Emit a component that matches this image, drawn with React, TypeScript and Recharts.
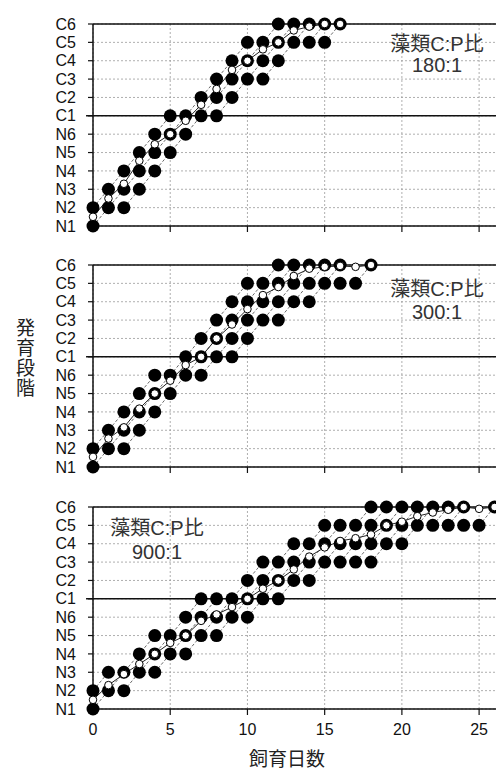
import { ComposedChart, Line, XAxis, YAxis, CartesianGrid, ReferenceLine } from 'recharts';

// 発育段階 (1 = N1 ... 12 = C6)
const stageLabels = ['N1', 'N2', 'N3', 'N4', 'N5', 'N6', 'C1', 'C2', 'C3', 'C4', 'C5', 'C6'];
const stageTicks = [1, 2, 3, 4, 5, 6, 7, 8, 9, 10, 11, 12];
const dayTicks = [0, 5, 10, 15, 20, 25];

// 各日に観察された個体の段階 (index = 飼育日数)
const obs180 = [
  [2, 1], [3, 2], [4, 3, 2], [5, 4, 3], [6, 5, 4], [7, 6, 5], [7, 6], [8, 7], [9, 8, 7],
  [10, 9, 8], [11, 10, 9], [11, 10, 9], [12, 11, 10], [12, 11], [12, 11], [12, 11], [12],
];
const mean180 = [1.5, 2.5, 3.3, 4.55, 5.45, 6, 6.73, 7.6, 8.46, 9.5, 10, 10.62, 11, 11.65, 11.86, 12, 12];

const obs300 = [
  [2, 1], [3, 2], [4, 3, 2], [5, 4, 3], [6, 5, 4], [6, 5], [7, 6], [8, 7, 6], [9, 8, 7],
  [10, 9, 8, 7], [11, 10, 9, 8], [11, 10, 9], [12, 11, 10, 9], [12, 11, 10], [12, 11, 10],
  [12, 11], [12, 11], [11], [12],
];
const mean300 = [1.55, 2.55, 3.16, 4.18, 5, 5.7, 6.55, 7, 8, 8.76, 9.6, 10.36, 10.8, 11.4, 11.8, 11.9, 11.95, 11.9, 12];

const obs900 = [
  [2, 1], [3, 2], [3, 2], [4, 3], [5, 4, 3], [5, 4], [6, 5, 4], [7, 6, 5], [7, 6, 5], [7, 6],
  [8, 7, 6], [9, 8, 7], [9, 8, 7], [10, 9, 8], [10, 9, 8], [11, 10, 9], [11, 10, 9], [11, 10, 9],
  [12, 11, 10, 9], [12, 11, 10], [12, 11, 10], [12, 11], [12, 11], [12, 11], [12, 11], [11], [12],
];
const mean900 = [
  1.5, 2.3, 2.9, 3.45, 4, 4.6, 5, 5.8, 6.15, 6.55, 7, 7.55, 8, 8.6, 9.3, 9.8, 10.15, 10.3, 10.5,
  11, 11.2, 11.5, 11.7, 11.85, 12, 11.9, 12,
];

const latin = "'Liberation Sans', Arial, sans-serif";
const jp = "'Liberation Sans', 'Noto Sans CJK JP', sans-serif";

const toPoints = (obs: number[][]) => obs.flatMap((list, d) => list.map((s) => ({ d, s })));

// 個体の推移: (d, s) -> (d+1, s+1) と斜めにつなぐ
const diagonalChains = (obs: number[][]) => {
  const has = (d: number, s: number) => d >= 0 && d < obs.length && obs[d].includes(s);
  const chains: { d: number; s: number }[][] = [];
  obs.forEach((list, d) => {
    list.forEach((s) => {
      if (has(d - 1, s - 1)) return;
      const chain = [{ d, s }];
      let k = 1;
      while (has(d + k, s + k)) {
        chain.push({ d: d + k, s: s + k });
        k++;
      }
      if (chain.length > 1) chains.push(chain);
    });
  });
  return chains;
};

interface PanelProps {
  obs: number[][];
  mean: number[];
  top: number;
  showLabels: boolean;
}

const Panel = ({ obs, mean, top, showLabels }: PanelProps) => {
  const dots = toPoints(obs);
  const chains = diagonalChains(obs);
  const meanPts = mean.map((s, d) => ({ d, s }));
  return (
    <div style={{ position: 'absolute', left: 0, top: top - 12 }}>
      <ComposedChart width={512} height={244} margin={{ top: 12, right: 2, left: 0, bottom: 0 }}>
        <CartesianGrid stroke="#9a9a9a" strokeDasharray="2 2" strokeWidth={0.8} />
        <XAxis
          type="number"
          dataKey="d"
          domain={[0, 27]}
          ticks={dayTicks}
          interval={0}
          height={30}
          tickSize={6}
          tickMargin={9}
          axisLine={{ stroke: '#111', strokeWidth: 1.5 }}
          tickLine={{ stroke: '#111', strokeWidth: 1.2 }}
          tick={{ fontSize: 16, fill: '#111', fontFamily: latin }}
          tickFormatter={(v: number) => (showLabels ? String(v) : '')}
        />
        <YAxis
          type="number"
          dataKey="s"
          domain={[1, 12]}
          ticks={stageTicks}
          interval={0}
          width={93}
          tickSize={5}
          tickMargin={12}
          axisLine={{ stroke: '#111', strokeWidth: 1.5 }}
          tickLine={{ stroke: '#111', strokeWidth: 1.2 }}
          tick={{ fontSize: 16, fill: '#111', fontFamily: latin }}
          tickFormatter={(v: number) => stageLabels[v - 1]}
        />
        <ReferenceLine y={12} stroke="#111" strokeWidth={1.5} />
        <ReferenceLine
          segment={[{ x: -0.45, y: 7 }, { x: 27, y: 7 }]}
          ifOverflow="visible"
          stroke="#111"
          strokeWidth={1.5}
        />
        {chains.map((c, i) => (
          <Line
            key={`c-${i}`}
            data={c}
            dataKey="s"
            stroke="#444"
            strokeWidth={0.8}
            strokeDasharray="3 2"
            dot={false}
            isAnimationActive={false}
          />
        ))}
        <Line
          data={dots}
          dataKey="s"
          stroke="none"
          dot={{ r: 6.5, fill: '#000', stroke: 'none' }}
          isAnimationActive={false}
        />
        <Line
          data={meanPts}
          dataKey="s"
          stroke="#222"
          strokeWidth={1}
          dot={{ r: 3.8, fill: '#fff', stroke: '#000', strokeWidth: 1 }}
          isAnimationActive={false}
        />
      </ComposedChart>
    </div>
  );
};

const Note = ({ cx, y1, y2, ratio }: { cx: number; y1: number; y2: number; ratio: string }) => (
  <>
    <div style={{ position: 'absolute', left: cx - 70, top: y1 - 12, width: 140, lineHeight: '24px', textAlign: 'center', fontSize: 20, color: '#333', fontFamily: jp }}>
      藻類C:P比
    </div>
    <div style={{ position: 'absolute', left: cx - 70, top: y2 - 12, width: 140, lineHeight: '24px', textAlign: 'center', fontSize: 20, color: '#333', fontFamily: jp }}>
      {ratio}
    </div>
  </>
);

export default function App() {
  return (
    <div style={{ position: 'fixed', left: 0, top: 0, width: 496, height: 769, overflow: 'hidden', background: '#fff' }}>
      <Panel obs={obs180} mean={mean180} top={24} showLabels={false} />
      <Panel obs={obs300} mean={mean300} top={265} showLabels={false} />
      <Panel obs={obs900} mean={mean900} top={507} showLabels={true} />
      <Note cx={437} y1={44} y2={65} ratio="180:1" />
      <Note cx={437} y1={289} y2={312} ratio="300:1" />
      <Note cx={157} y1={528} y2={552} ratio="900:1" />
      <div style={{ position: 'absolute', left: 237, top: 748, width: 100, lineHeight: '24px', textAlign: 'center', fontSize: 19, color: '#222', fontFamily: jp }}>
        飼育日数
      </div>
      <div style={{ position: 'absolute', left: 13, top: 318, writingMode: 'vertical-rl', fontSize: 19, letterSpacing: 1, lineHeight: '20px', color: '#222', fontFamily: jp }}>
        発育段階
      </div>
    </div>
  );
}
